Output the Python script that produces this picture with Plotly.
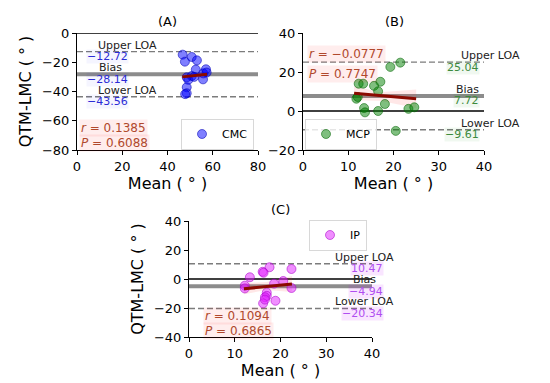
import plotly.graph_objects as go

W, H = 550, 383
OFF = 8                      # page body margin of the browser
FW, FH = W - OFF, H - OFF    # figure size so that the figure fits the window

# ---------------- data ----------------
cmc_mean = [46.7, 47.7, 50.7, 53.0, 52.5, 55.8, 57.0, 57.3, 55.7, 48.5, 50.7, 49.2, 48.5, 48.5, 47.8, 51.8]
cmc_diff = [-14.8, -19.6, -16.4, -18.7, -25.0, -27.6, -24.8, -27.0, -31.7, -30.3, -29.4, -32.0, -37.1, -41.2, -41.8, -30.0]
cmc_loa = [-12.72, -28.14, -43.56]          # upper, bias, lower
cmc_reg_x = [46.5, 52.0, 57.5]
cmc_reg_y = [-30.0, -29.1, -28.2]
cmc_ci_lo = [-32.5, -30.5, -31.5]
cmc_ci_hi = [-27.5, -27.6, -25.0]
cmc_stats = ["0.1385", "0.6088"]

mcp_mean = [19.3, 21.5, 12.3, 13.3, 17.1, 15.7, 16.6, 11.8, 12.1, 18.1, 13.5, 13.7, 16.6, 23.3, 24.6, 20.5]
mcp_diff = [22.6, 24.8, 14.0, 14.0, 15.0, 12.9, 10.1, 6.3, 7.2, 3.6, 1.5, -0.7, 0.0, 1.1, 1.9, -10.2]
mcp_loa = [25.04, 7.72, -9.61]
mcp_reg_x = [11.3, 17.0, 25.0]
mcp_reg_y = [9.1, 7.8, 6.3]
mcp_ci_lo = [5.5, 5.3, 1.5]
mcp_ci_hi = [12.7, 9.6, 11.0]
mcp_stats = ["\u22120.0777", "0.7747"]

ip_mean = [17.6, 16.1, 16.3, 22.4, 13.3, 12.2, 12.2, 18.6, 20.6, 22.4, 17.0, 17.0, 16.6, 18.9, 16.2, 16.6]
ip_diff = [8.1, 5.0, 4.3, 6.9, 1.2, -4.6, -6.5, -3.2, -1.4, -6.2, -9.4, -11.6, -12.6, -15.0, -16.8, -14.2]
ip_loa = [10.47, -4.94, -20.34]
ip_reg_x = [12.0, 17.0, 22.5]
ip_reg_y = [-6.8, -5.2, -3.4]
ip_ci_lo = [-10.5, -7.5, -9.0]
ip_ci_hi = [-3.0, -2.0, 2.0]
ip_stats = ["0.1094", "0.6865"]

# ---------------- layout geometry (window pixels -> paper) ----------------
def px(x):
    return (x - OFF) / FW

def py(y):
    return 1 - (y - OFF) / FH

def dom_x(a, b):
    return [px(a), px(b)]

def dom_y(top, bottom):
    return [py(bottom), py(top)]

panels = [
    dict(name="CMC", xa="x", ya="y", xd=dom_x(77, 258), yd=dom_y(33, 150),
         xr=[0, 80], yr=[-80, 0], xt=[0, 20, 40, 60, 80], yt=[-80, -60, -40, -20, 0],
         mean=cmc_mean, diff=cmc_diff, loa=cmc_loa, rx=cmc_reg_x, ry=cmc_reg_y,
         lo=cmc_ci_lo, hi=cmc_ci_hi, stats=cmc_stats,
         mc="rgba(0,0,255,0.5)", ml="rgba(0,0,180,0.55)", tc="#2b2bd6", tbg="rgba(0,0,255,0.04)",
         legend="legend", title="(A)", ytitle=True),
    dict(name="MCP", xa="x2", ya="y2", xd=dom_x(303, 484), yd=dom_y(33, 150),
         xr=[0, 40], yr=[-20, 40], xt=[0, 10, 20, 30, 40], yt=[-20, 0, 20, 40],
         mean=mcp_mean, diff=mcp_diff, loa=mcp_loa, rx=mcp_reg_x, ry=mcp_reg_y,
         lo=mcp_ci_lo, hi=mcp_ci_hi, stats=mcp_stats,
         mc="rgba(0,128,0,0.5)", ml="rgba(0,100,0,0.55)", tc="#3d8a3d", tbg="rgba(0,128,0,0.06)",
         legend="legend2", title="(B)", ytitle=False),
    dict(name="IP", xa="x3", ya="y3", xd=dom_x(189, 372), yd=dom_y(221, 337),
         xr=[0, 40], yr=[-40, 40], xt=[0, 10, 20, 30, 40], yt=[-40, -20, 0, 20, 40],
         mean=ip_mean, diff=ip_diff, loa=ip_loa, rx=ip_reg_x, ry=ip_reg_y,
         lo=ip_ci_lo, hi=ip_ci_hi, stats=ip_stats,
         mc="rgba(225,30,255,0.5)", ml="rgba(170,0,200,0.55)", tc="#b04ef0", tbg="rgba(200,0,255,0.10)",
         legend="legend3", title="(C)", ytitle=True),
]

fig = go.Figure()
shapes = []
annotations = []
layout_axes = {}

reg_color = "#8b0a00"
stat_color = "#b0482c"
stat_bg = "rgba(255,0,0,0.07)"

text_pos = {
    "CMC": dict(lab=[(97, "left"), (98, "left"), (97, "left")], val=[(86, "left")] * 3,
                stat_x=79, stat_y=[127.7, 143.3], title=(167, 22)),
    "MCP": dict(lab=[(521, "right"), (480, "right"), (521, "right")], val=[(480, "right")] * 3,
                stat_x=307, stat_y=[54.3, 74.3], title=(394, 22)),
    "IP": dict(lab=[(395, "right"), (377, "right"), (395, "right")], val=[(384, "right")] * 3,
               stat_x=203, stat_y=[316, 331], title=(280, 210)),
}
labels = ["Upper LOA", "Bias", "Lower LOA"]

for p in panels:
    xa, ya = p["xa"], p["ya"]
    # CI band
    fig.add_trace(go.Scatter(x=p["rx"], y=p["hi"], mode="lines", line=dict(width=0),
                             xaxis=xa, yaxis=ya, showlegend=False, hoverinfo="skip"))
    fig.add_trace(go.Scatter(x=p["rx"], y=p["lo"], mode="lines", line=dict(width=0),
                             fill="tonexty", fillcolor="rgba(255,60,60,0.12)",
                             xaxis=xa, yaxis=ya, showlegend=False, hoverinfo="skip"))
    # points
    fig.add_trace(go.Scatter(x=p["mean"], y=p["diff"], mode="markers", name=p["name"],
                             marker=dict(size=9, color=p["mc"], line=dict(color=p["ml"], width=1)),
                             xaxis=xa, yaxis=ya, legend=p["legend"]))
    # regression line
    fig.add_trace(go.Scatter(x=p["rx"], y=p["ry"], mode="lines",
                             line=dict(color=reg_color, width=3),
                             xaxis=xa, yaxis=ya, showlegend=False, hoverinfo="skip"))

    # zero line
    shapes.append(dict(type="line", xref=xa + " domain", yref=ya, x0=0, x1=1, y0=0, y1=0,
                       line=dict(color="black", width=1.3), layer="below"))
    # LOA lines
    for i, v in enumerate(p["loa"]):
        if i == 1:
            ln = dict(color="rgba(128,128,128,0.9)", width=4)
        else:
            ln = dict(color="rgba(110,110,110,0.9)", width=1.4, dash="6px,3px")
        shapes.append(dict(type="line", xref=xa + " domain", yref=ya, x0=0, x1=1, y0=v, y1=v,
                           line=ln, layer="below"))

    tp = text_pos[p["name"]]
    for i, v in enumerate(p["loa"]):
        lx, lanc = tp["lab"][i]
        vx, vanc = tp["val"][i]
        annotations.append(dict(xref="paper", yref=ya, x=px(lx), y=v, xanchor=lanc, yanchor="middle",
                                yshift=6.5, text=labels[i], showarrow=False, borderpad=0,
                                font=dict(size=11, color="#222222")))
        vtxt = f"{v:.2f}".replace("-", "\u2212")
        annotations.append(dict(xref="paper", yref=ya, x=px(vx), y=v, xanchor=vanc, yanchor="middle",
                                yshift=-5, text=vtxt, showarrow=False, bgcolor=p["tbg"],
                                borderpad=0, font=dict(size=11, color=p["tc"])))
    # stats
    for j, (lab, val) in enumerate(zip(["<i>r</i>", "<i>P</i>"], p["stats"])):
        annotations.append(dict(xref="paper", yref="paper", x=px(tp["stat_x"]),
                                y=py(tp["stat_y"][j]), xanchor="left", yanchor="middle",
                                text=f"{lab} = {val}", showarrow=False, bgcolor=stat_bg, borderpad=1,
                                font=dict(size=12, color=stat_color)))
    # panel title
    tx, ty = tp["title"]
    annotations.append(dict(xref="paper", yref="paper", x=px(tx), y=py(ty), xanchor="center",
                            yanchor="middle", text=p["title"], showarrow=False,
                            font=dict(size=13, color="black")))

    axis_common = dict(showgrid=False, zeroline=False, showline=True, linecolor="black", linewidth=1,
                       ticks="outside", ticklen=4, tickwidth=1, tickcolor="black", mirror=False,
                       automargin=False, tickfont=dict(size=13, color="black"))
    xkey = "xaxis" if xa == "x" else "xaxis" + xa[1:]
    ykey = "yaxis" if ya == "y" else "yaxis" + ya[1:]
    layout_axes[xkey] = dict(axis_common, domain=p["xd"], range=p["xr"], tickvals=p["xt"],
                             anchor=ya, title=dict(text="Mean ( \u00b0 )", font=dict(size=16), standoff=4))
    yd = dict(axis_common, domain=p["yd"], range=p["yr"], tickvals=p["yt"], anchor=xa)
    if p["ytitle"]:
        yd["title"] = dict(text="QTM-LMC ( \u00b0 )", font=dict(size=16), standoff=6)
    layout_axes[ykey] = yd

legend_common = dict(bgcolor="rgba(255,255,255,0.8)", bordercolor="#d8d8d8", borderwidth=1,
                     font=dict(size=11, color="black"), xanchor="left", yanchor="middle")
fig.update_layout(
    template="none",
    width=FW, height=FH, autosize=False,
    margin=dict(l=0, r=0, t=0, b=0),
    paper_bgcolor="white", plot_bgcolor="rgba(0,0,0,0)",
    font=dict(family="DejaVu Sans", color="black"),
    shapes=shapes, annotations=annotations,
    legend=dict(legend_common, x=px(181), y=py(134)),
    legend2=dict(legend_common, x=px(305), y=py(134)),
    legend3=dict(legend_common, x=px(309), y=py(235)),
    **layout_axes,
)

fig.write_html("out.html")
